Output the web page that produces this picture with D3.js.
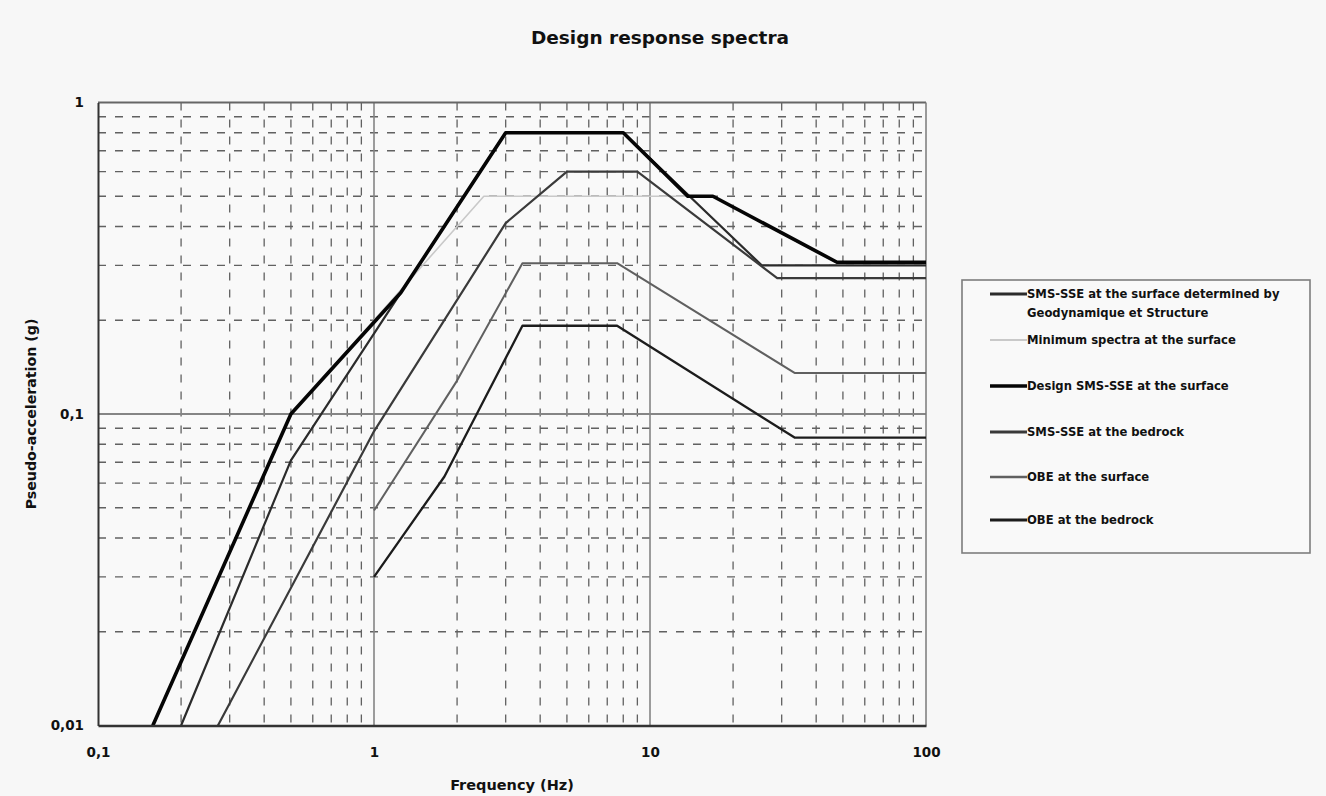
<!DOCTYPE html>
<html>
<head>
<meta charset="utf-8">
<script src="https://cdn.jsdelivr.net/npm/d3@7"></script>
<style>
  html, body { margin: 0; padding: 0; background: #f7f7f7; }
  svg { display: block; }
  text { font-family: "DejaVu Sans", "Liberation Sans", sans-serif; font-weight: bold; fill: #111; }
</style>
</head>
<body>
<svg id="chart" width="1326" height="796"></svg>
<script>
// ---- data (frequency Hz, pseudo-acceleration g) ----
const gsSurface    = [[0.2,0.01],[0.5,0.071],[3,0.8],[8,0.8],[25.4,0.3],[100,0.3]];
const minSurface   = [[0.158,0.01],[0.5,0.1],[2.5,0.5],[16.9,0.5],[47.6,0.305],[100,0.305]];
const designSurface= [[0.158,0.01],[0.5,0.1],[1.25,0.245],[3,0.8],[8,0.8],[13.7,0.5],[16.9,0.5],[47.6,0.307],[100,0.307]];
const smsBedrock   = [[0.272,0.01],[1,0.088],[3,0.41],[5,0.6],[9,0.6],[28.9,0.273],[100,0.273]];
const obeSurface   = [[1,0.049],[2,0.128],[3.45,0.305],[7.6,0.305],[33.4,0.1355],[100,0.1355]];
const obeBedrock   = [[1,0.03],[1.8,0.063],[3.45,0.192],[7.6,0.192],[33.4,0.084],[100,0.084]];

const seriesNames = [
  ["SMS-SSE at the surface determined by", "Geodynamique et Structure"],
  ["Minimum spectra at the surface"],
  ["Design SMS-SSE at the surface"],
  ["SMS-SSE at the bedrock"],
  ["OBE at the surface"],
  ["OBE at the bedrock"]
];
const xTickValues = [0.1, 1, 10, 100];
const xTickLabels = ["0,1", "1", "10", "100"];
const yTickValues = [0.01, 0.1, 1];
const yTickLabels = ["0,01", "0,1", "1"];
const chartTitle = "Design response spectra";
const xTitle = "Frequency (Hz)";
const yTitle = "Pseudo-acceleration (g)";

// ---- styles ----
const seriesData = [gsSurface, minSurface, designSurface, smsBedrock, obeSurface, obeBedrock];
const seriesStyle = [
  {color: "#2b2b2b", width: 2.2},
  {color: "#c9c9c9", width: 1.6},
  {color: "#050505", width: 3.6},
  {color: "#3a3a3a", width: 2.2},
  {color: "#606060", width: 2.0},
  {color: "#1c1c1c", width: 2.3}
];

const svg = d3.select("#chart");
const pL = 98, pR = 926, pT = 102.5, pB = 725.5;

const x = d3.scaleLog().domain([0.1, 100]).range([pL, pR]);
const y = d3.scaleLog().domain([0.01, 1]).range([pB, pT]);

svg.append("rect").attr("x", pL).attr("y", pT)
  .attr("width", pR - pL).attr("height", pB - pT)
  .attr("fill", "#f9f9f9");

// minor grid (dashed)
const xMinor = [];
const yMinor = [];
[0.1, 1, 10].forEach(d => { for (let k = 2; k <= 9; k++) xMinor.push(d * k); });
[0.01, 0.1].forEach(d => { for (let k = 2; k <= 9; k++) yMinor.push(d * k); });

const grid = svg.append("g");
grid.selectAll(".vm").data(xMinor).join("line")
  .attr("x1", d => x(d)).attr("x2", d => x(d))
  .attr("y1", pT).attr("y2", pB)
  .attr("stroke", "#616161").attr("stroke-width", 1.3)
  .attr("stroke-dasharray", "8,9");
grid.selectAll(".hm").data(yMinor).join("line")
  .attr("y1", d => y(d)).attr("y2", d => y(d))
  .attr("x1", pL).attr("x2", pR)
  .attr("stroke", "#616161").attr("stroke-width", 1.4)
  .attr("stroke-dasharray", "8,9");

// major grid (solid gray)
grid.selectAll(".vM").data([1, 10]).join("line")
  .attr("x1", d => x(d)).attr("x2", d => x(d))
  .attr("y1", pT).attr("y2", pB)
  .attr("stroke", "#858585").attr("stroke-width", 1.6);
grid.selectAll(".hM").data([0.1]).join("line")
  .attr("y1", d => y(d)).attr("y2", d => y(d))
  .attr("x1", pL).attr("x2", pR)
  .attr("stroke", "#858585").attr("stroke-width", 1.8);

// frame
svg.append("line").attr("x1", pL).attr("x2", pR).attr("y1", pT).attr("y2", pT)
  .attr("stroke", "#666").attr("stroke-width", 1.8);
svg.append("line").attr("x1", pR).attr("x2", pR).attr("y1", pT).attr("y2", pB)
  .attr("stroke", "#7a7a7a").attr("stroke-width", 1.5);

// series
const line = d3.line().x(d => x(d[0])).y(d => y(d[1]));
const lines = svg.append("g");
seriesData.forEach((s, i) => {
  lines.append("path").datum(s).attr("d", line)
    .attr("fill", "none")
    .attr("stroke", seriesStyle[i].color)
    .attr("stroke-width", seriesStyle[i].width)
    .attr("stroke-linejoin", "round");
});

// axes
const xAxis = d3.axisBottom(x).tickValues(xTickValues)
  .tickFormat((d, i) => xTickLabels[i]).tickSize(0).tickPadding(22);
const gx = svg.append("g").attr("transform", `translate(0,${pB})`).call(xAxis);
gx.select(".domain").attr("stroke", "#333").attr("stroke-width", 2.6);
gx.selectAll("text").attr("font-size", 13.5).attr("fill", "#222")
  .attr("font-family", "DejaVu Sans").attr("font-weight", "bold");

const yAxis = d3.axisLeft(y).tickValues(yTickValues)
  .tickFormat((d, i) => yTickLabels[i]).tickSize(0).tickPadding(14);
const gy = svg.append("g").attr("transform", `translate(${pL},0)`).call(yAxis);
gy.select(".domain").attr("stroke", "#333").attr("stroke-width", 2);
gy.selectAll("text").attr("font-size", 13.5).attr("fill", "#222")
  .attr("font-family", "DejaVu Sans").attr("font-weight", "bold");

// titles
svg.append("text").attr("x", 660).attr("y", 44).attr("text-anchor", "middle")
  .attr("font-size", 18.5).text(chartTitle);
svg.append("text").attr("x", (pL + pR) / 2).attr("y", 790).attr("text-anchor", "middle")
  .attr("font-size", 14.5).text(xTitle);
svg.append("text").attr("transform", `translate(36,${(pT + pB) / 2}) rotate(-90)`)
  .attr("text-anchor", "middle").attr("font-size", 14.2).text(yTitle);

// legend
const lg = svg.append("g");
lg.append("rect").attr("x", 962).attr("y", 280).attr("width", 348).attr("height", 273)
  .attr("fill", "#f9f9f9").attr("stroke", "#7d7d7d").attr("stroke-width", 1.6);
const legendY = [294, 340, 386, 432, 477, 520];
seriesNames.forEach((names, i) => {
  const ly = legendY[i];
  lg.append("line").attr("x1", 990).attr("x2", 1027).attr("y1", ly).attr("y2", ly)
    .attr("stroke", seriesStyle[i].color)
    .attr("stroke-width", Math.min(seriesStyle[i].width + 0.6, 3.4));
  names.forEach((t, j) => {
    lg.append("text").attr("x", 1027).attr("y", ly + 4 + j * 19)
      .attr("font-size", 11.6).attr("fill", "#1a1a1a").text(t);
  });
});
</script>
</body>
</html>
